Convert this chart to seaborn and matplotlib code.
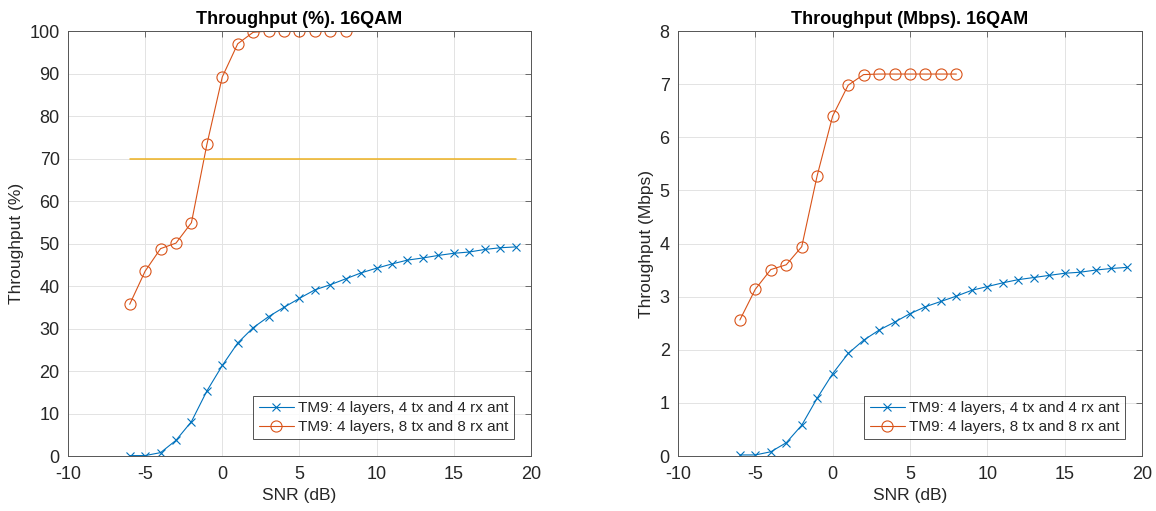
import matplotlib
matplotlib.use("Agg")
import matplotlib.pyplot as plt
import seaborn as sns
import pandas as pd

snr_a = list(range(-6, 20))
tput_pct_a = [0.1, 0.1, 0.8, 3.7, 8.1, 15.3, 21.3, 26.6, 30.2, 32.8, 35.0, 37.1, 39.1,
              40.3, 41.7, 43.1, 44.2, 45.2, 46.1, 46.6, 47.2, 47.7, 48.0, 48.6, 49.0, 49.2]
tput_mbps_a = [0.02, 0.02, 0.08, 0.25, 0.58, 1.09, 1.55, 1.93, 2.18, 2.37, 2.52, 2.68, 2.81,
               2.91, 3.01, 3.12, 3.19, 3.26, 3.32, 3.36, 3.40, 3.44, 3.46, 3.50, 3.53, 3.55]
snr_b = list(range(-6, 9))
tput_pct_b = [35.7, 43.5, 48.8, 50.1, 54.9, 73.3, 89.2, 97.0, 99.7, 100, 100, 100, 100, 100, 100]
tput_mbps_b = [2.56, 3.14, 3.51, 3.60, 3.94, 5.28, 6.40, 6.98, 7.18, 7.19, 7.19, 7.19, 7.19, 7.19, 7.19]
ref_snr = [-6, 19]
ref_pct = [70, 70]

label_a = "TM9: 4 layers, 4 tx and 4 rx ant"
label_b = "TM9: 4 layers, 8 tx and 8 rx ant"

sns.set_theme(style="white")
plt.rcParams["font.family"] = ["Liberation Sans", "DejaVu Sans"]
plt.rcParams["axes.unicode_minus"] = False

BLUE = "#0072BD"
ORANGE = "#D95319"
YELLOW = "#EDB120"
TXT = "#262626"

fig = plt.figure(figsize=(11.56, 5.11), dpi=100)
ax1 = fig.add_axes([0.0588, 0.1076, 0.4005, 0.8317])
ax2 = fig.add_axes([0.5865, 0.1076, 0.4014, 0.8317])

df_a = pd.DataFrame({"snr": snr_a, "pct": tput_pct_a, "mbps": tput_mbps_a})
df_b = pd.DataFrame({"snr": snr_b, "pct": tput_pct_b, "mbps": tput_mbps_b})
df_r = pd.DataFrame({"snr": ref_snr, "pct": ref_pct})

def style_axes(ax, ylim, yticks, ylabel, title):
    ax.set_xlim(-10, 20)
    ax.set_xticks(range(-10, 21, 5))
    ax.set_ylim(*ylim)
    ax.set_yticks(yticks)
    ax.grid(True, color="#e3e3e3", linewidth=0.7)
    ax.set_axisbelow(True)
    ax.tick_params(direction="in", length=4, width=0.6, top=True, right=True,
                   labelsize=13, colors="#555555", labelcolor=TXT)
    ax.tick_params(axis="x", pad=7)
    ax.tick_params(axis="y", pad=6)
    for s in ax.spines.values():
        s.set_visible(True)
        s.set_color("#555555")
        s.set_linewidth(0.7)
    ax.set_xlabel("SNR (dB)", fontsize=12.5, color=TXT, labelpad=4)
    ax.set_ylabel(ylabel, fontsize=12.5, color=TXT, labelpad=4)
    ax.set_title(title, fontsize=13, fontweight="bold", color="black", pad=5)
    leg = ax.legend(loc="lower right", fontsize=11, frameon=True, fancybox=False,
                    borderaxespad=1.1, handlelength=2.3, borderpad=0.35,
                    labelspacing=0.3, handletextpad=0.3)
    leg.get_frame().set_edgecolor("#262626")
    leg.get_frame().set_linewidth(0.7)
    for t in leg.get_texts():
        t.set_color(TXT)

for ax, col in ((ax1, "pct"), (ax2, "mbps")):
    sns.lineplot(data=df_a, x="snr", y=col, ax=ax, color=BLUE, marker="x",
                 markersize=6, linewidth=0.8, markeredgecolor=BLUE,
                 markeredgewidth=0.8, label=label_a)
    sns.lineplot(data=df_b, x="snr", y=col, ax=ax, color=ORANGE, marker="o",
                 markersize=8, linewidth=0.8, markeredgecolor=ORANGE,
                 markerfacecolor="none", markeredgewidth=0.8, label=label_b)

sns.lineplot(data=df_r, x="snr", y="pct", ax=ax1, color=YELLOW, linewidth=1.1, legend=False)

style_axes(ax1, (0, 100), range(0, 101, 10), "Throughput (%)", "Throughput (%). 16QAM")
style_axes(ax2, (0, 8), range(0, 9, 1), "Throughput (Mbps)", "Throughput (Mbps). 16QAM")

fig.savefig("out.png", dpi=100)
